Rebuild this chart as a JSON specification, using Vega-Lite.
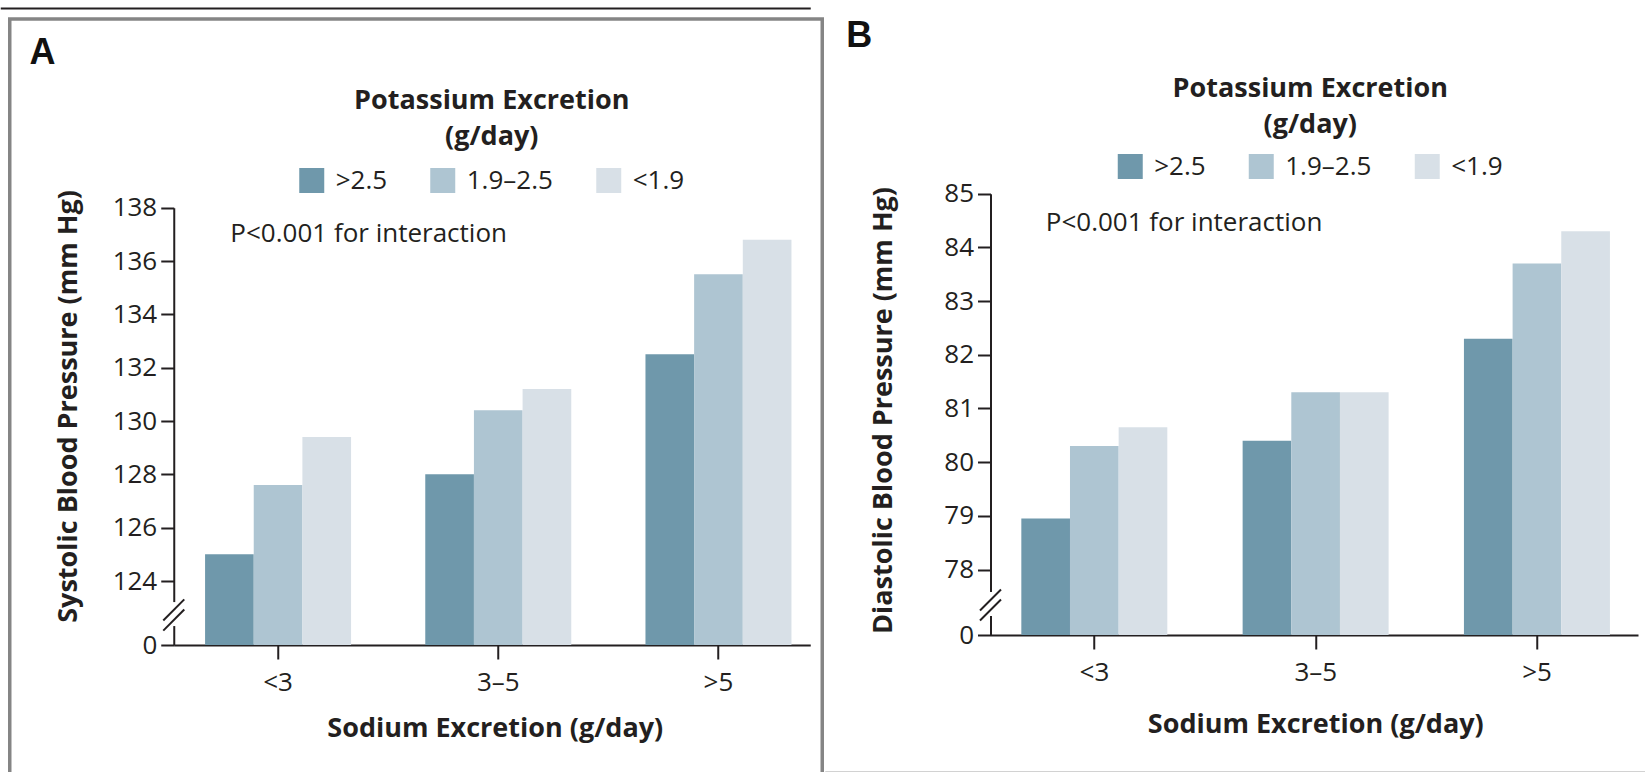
{
  "$schema": "https://vega.github.io/schema/vega-lite/v6.json",
  "background": "white",
  "padding": {"left": 7.75, "top": 6, "right": 0, "bottom": 0},
  "spacing": 0,
  "data": {
    "values": [
      {"measure": "systolic", "sodium": "<3", "potassium": ">2.5", "bp": 125.0},
      {"measure": "systolic", "sodium": "<3", "potassium": "1.9–2.5", "bp": 127.6},
      {"measure": "systolic", "sodium": "<3", "potassium": "<1.9", "bp": 129.4},
      {"measure": "systolic", "sodium": "3–5", "potassium": ">2.5", "bp": 128.0},
      {"measure": "systolic", "sodium": "3–5", "potassium": "1.9–2.5", "bp": 130.4},
      {"measure": "systolic", "sodium": "3–5", "potassium": "<1.9", "bp": 131.2},
      {"measure": "systolic", "sodium": ">5", "potassium": ">2.5", "bp": 132.5},
      {"measure": "systolic", "sodium": ">5", "potassium": "1.9–2.5", "bp": 135.5},
      {"measure": "systolic", "sodium": ">5", "potassium": "<1.9", "bp": 136.8},
      {"measure": "diastolic", "sodium": "<3", "potassium": ">2.5", "bp": 78.95},
      {"measure": "diastolic", "sodium": "<3", "potassium": "1.9–2.5", "bp": 80.3},
      {"measure": "diastolic", "sodium": "<3", "potassium": "<1.9", "bp": 80.65},
      {"measure": "diastolic", "sodium": "3–5", "potassium": ">2.5", "bp": 80.4},
      {"measure": "diastolic", "sodium": "3–5", "potassium": "1.9–2.5", "bp": 81.3},
      {"measure": "diastolic", "sodium": "3–5", "potassium": "<1.9", "bp": 81.3},
      {"measure": "diastolic", "sodium": ">5", "potassium": ">2.5", "bp": 82.3},
      {"measure": "diastolic", "sodium": ">5", "potassium": "1.9–2.5", "bp": 83.7},
      {"measure": "diastolic", "sodium": ">5", "potassium": "<1.9", "bp": 84.3}
    ]
  },
  "hconcat": [
    {
      "width": 812.5,
      "height": 782.5,
      "view": {"stroke": "#858585", "strokeWidth": 3.5},
      "title": {"text": "A", "anchor": "start", "frame": "group", "orient": "top", "offset": 0, "baseline": "top", "dx": 19.7, "dy": 63.8},
      "transform": [{"filter": "datum.measure === 'systolic'"}],
      "layer": [
        {
          "layer": [
            {
              "mark": {"type": "bar"},
              "encoding": {
                "x": {
                  "field": "sodium", "type": "nominal", "sort": ["<3", "3–5", ">5"],
                  "scale": {"range": [164, 800.5], "paddingInner": 0.337, "paddingOuter": 0.1138, "align": 0.625},
                  "axis": {
                    "orient": "bottom", "offset": -156.5, "labelAngle": 0,
                    "domainWidth": 2, "tickSize": 14, "tickWidth": 2, "labelPadding": 10, "labelFontSize": 26,
                    "title": "Sodium Excretion (g/day)", "titleX": 485, "titleY": 91,
                    "titleAlign": "center", "titleBaseline": "alphabetic", "titleFontSize": 27, "titleFontWeight": "bold"
                  }
                },
                "xOffset": {"field": "potassium", "type": "nominal", "sort": [">2.5", "1.9–2.5", "<1.9"], "scale": {"paddingInner": 0, "paddingOuter": 0}},
                "y": {
                  "field": "bp", "type": "quantitative",
                  "scale": {"domain": [121.6, 138], "range": [626, 188.7], "zero": false, "nice": false},
                  "axis": {
                    "orient": "left", "offset": -164,
                    "values": [121.6, 124, 126, 128, 130, 132, 134, 136, 138],
                    "format": "d", "labelExpr": "datum.value < 123 ? '0' : datum.label",
                    "domainWidth": 2, "tickSize": 13, "tickWidth": 2, "labelPadding": 4, "labelFontSize": 26,
                    "title": "Systolic Blood Pressure (mm Hg)", "titleX": -105, "titleY": 387, "titleAngle": -90,
                    "titleAlign": "center", "titleBaseline": "middle", "titleFontSize": 27, "titleFontWeight": "bold"
                  }
                },
                "y2": {"datum": 121.6},
                "color": {
                  "field": "potassium", "type": "nominal",
                  "scale": {"domain": [">2.5", "1.9–2.5", "<1.9"], "range": ["#6f98ab", "#aec5d2", "#d8e0e7"]},
                  "legend": {"orient": "none", "legendX": 289, "legendY": 68.5, "titlePadding": 17, "title": ["Potassium Excretion", "(g/day)"]}
                }
              }
            },
            {
              "data": {"values": [{"note": "P<0.001 for interaction"}]},
              "mark": {"type": "text", "align": "left", "baseline": "alphabetic", "fontSize": 26, "color": "#231f20"},
              "encoding": {
                "x": {"datum": "<3", "type": "nominal", "bandPosition": 0.173},
                "y": {"datum": 136.72, "type": "quantitative"},
                "text": {"field": "note"}
              }
            },
            {
              "data": {"values": [{"part": "axis break"}]},
              "mark": {"type": "rule", "color": "white", "strokeWidth": 6},
              "encoding": {
                "x": {"datum": "<3", "type": "nominal", "bandPosition": -0.2144},
                "y": {"datum": 122.31, "type": "quantitative"},
                "y2": {"datum": 123.21}
              }
            },
            {
              "data": {"values": [{"part": "axis break"}]},
              "mark": {"type": "rule", "color": "#231f20", "strokeWidth": 2},
              "encoding": {
                "x": {"datum": "<3", "type": "nominal", "bandPosition": -0.2863},
                "x2": {"datum": "<3", "bandPosition": -0.1425},
                "y": {"datum": 122.52, "type": "quantitative"},
                "y2": {"datum": 123.31}
              }
            },
            {
              "data": {"values": [{"part": "axis break"}]},
              "mark": {"type": "rule", "color": "#231f20", "strokeWidth": 2},
              "encoding": {
                "x": {"datum": "<3", "type": "nominal", "bandPosition": -0.2863},
                "x2": {"datum": "<3", "bandPosition": -0.1425},
                "y": {"datum": 122.14, "type": "quantitative"},
                "y2": {"datum": 122.93}
              }
            }
          ]
        },
        {
          "mark": {"type": "rule", "opacity": 0},
          "encoding": {
            "x": {
              "field": "sodium", "type": "nominal",
              "scale": {"range": [-9.5, 800.5]},
              "axis": {"orient": "top", "offset": 11, "domain": true, "domainColor": "#231f20", "domainWidth": 2, "ticks": false, "labels": false, "title": null}
            }
          }
        }
      ],
      "resolve": {"scale": {"x": "independent"}}
    },
    {
      "width": 830,
      "height": 753,
      "title": {"text": "B", "anchor": "start", "frame": "group", "orient": "top", "offset": 0, "baseline": "top", "dx": 21.5, "dy": 35.7},
      "transform": [{"filter": "datum.measure === 'diastolic'"}],
      "layer": [
        {
          "layer": [
            {
              "mark": {"type": "bar"},
              "encoding": {
                "x": {
                  "field": "sodium", "type": "nominal", "sort": ["<3", "3–5", ">5"],
                  "scale": {"range": [165.75, 813.25], "paddingInner": 0.339, "paddingOuter": 0.1324, "align": 0.526},
                  "axis": {
                    "orient": "bottom", "offset": -137, "labelAngle": 0,
                    "domainWidth": 2, "tickSize": 14, "tickWidth": 2, "labelPadding": 10, "labelFontSize": 26,
                    "title": "Sodium Excretion (g/day)", "titleX": 490.5, "titleY": 97,
                    "titleAlign": "center", "titleBaseline": "alphabetic", "titleFontSize": 27, "titleFontWeight": "bold"
                  }
                },
                "xOffset": {"field": "potassium", "type": "nominal", "sort": [">2.5", "1.9–2.5", "<1.9"], "scale": {"paddingInner": 0, "paddingOuter": 0}},
                "y": {
                  "field": "bp", "type": "quantitative",
                  "scale": {"domain": [76.78, 85], "range": [616, 174.7], "zero": false, "nice": false},
                  "axis": {
                    "orient": "left", "offset": -165.75,
                    "values": [76.78, 78, 79, 80, 81, 82, 83, 84, 85],
                    "format": "d", "labelExpr": "datum.value < 77.5 ? '0' : datum.label",
                    "domainWidth": 2, "tickSize": 13, "tickWidth": 2, "labelPadding": 4, "labelFontSize": 26,
                    "title": "Diastolic Blood Pressure (mm Hg)", "titleX": -107, "titleY": 391, "titleAngle": -90,
                    "titleAlign": "center", "titleBaseline": "middle", "titleFontSize": 27, "titleFontWeight": "bold"
                  }
                },
                "y2": {"datum": 76.78},
                "color": {
                  "field": "potassium", "type": "nominal",
                  "scale": {"domain": [">2.5", "1.9–2.5", "<1.9"], "range": ["#6f98ab", "#aec5d2", "#d8e0e7"]},
                  "legend": {"orient": "none", "legendX": 292.5, "legendY": 56.5, "titlePadding": 15, "title": ["Potassium Excretion", "(g/day)"]}
                }
              }
            },
            {
              "data": {"values": [{"note": "P<0.001 for interaction"}]},
              "mark": {"type": "text", "align": "left", "baseline": "alphabetic", "fontSize": 26, "color": "#231f20"},
              "encoding": {
                "x": {"datum": "<3", "type": "nominal", "bandPosition": 0.167},
                "y": {"datum": 84.3, "type": "quantitative"},
                "text": {"field": "note"}
              }
            },
            {
              "data": {"values": [{"part": "axis break"}]},
              "mark": {"type": "rule", "color": "white", "strokeWidth": 6},
              "encoding": {
                "x": {"datum": "<3", "type": "nominal", "bandPosition": -0.2107},
                "y": {"datum": 77.134, "type": "quantitative"},
                "y2": {"datum": 77.581}
              }
            },
            {
              "data": {"values": [{"part": "axis break"}]},
              "mark": {"type": "rule", "color": "#231f20", "strokeWidth": 2},
              "encoding": {
                "x": {"datum": "<3", "type": "nominal", "bandPosition": -0.2825},
                "x2": {"datum": "<3", "bandPosition": -0.139},
                "y": {"datum": 77.237, "type": "quantitative"},
                "y2": {"datum": 77.628}
              }
            },
            {
              "data": {"values": [{"part": "axis break"}]},
              "mark": {"type": "rule", "color": "#231f20", "strokeWidth": 2},
              "encoding": {
                "x": {"datum": "<3", "type": "nominal", "bandPosition": -0.2825},
                "x2": {"datum": "<3", "bandPosition": -0.139},
                "y": {"datum": 77.05, "type": "quantitative"},
                "y2": {"datum": 77.442}
              }
            }
          ]
        },
        {
          "mark": {"type": "rule", "opacity": 0},
          "encoding": {
            "x": {
              "field": "sodium", "type": "nominal",
              "scale": {"range": [0, 830]},
              "axis": {"orient": "bottom", "offset": 0, "domain": true, "domainColor": "#a6a6a6", "domainWidth": 2, "ticks": false, "labels": false, "title": null}
            }
          }
        }
      ],
      "resolve": {"scale": {"x": "independent"}}
    }
  ],
  "resolve": {"scale": {"color": "independent"}},
  "config": {
    "view": {"stroke": null},
    "font": "Open Sans",
    "axis": {
      "labelFont": "Open Sans", "titleFont": "Open Sans",
      "labelColor": "#231f20", "titleColor": "#231f20",
      "domainColor": "#231f20", "tickColor": "#231f20", "grid": false
    },
    "legend": {
      "direction": "horizontal", "padding": 0,
      "symbolType": "square", "symbolSize": 625, "symbolStrokeWidth": 0, "symbolOpacity": 1,
      "labelFont": "Open Sans", "labelFontSize": 26, "labelColor": "#231f20", "labelOffset": 11,
      "columnPadding": 42,
      "titleFont": "Open Sans", "titleFontSize": 27, "titleFontWeight": "bold", "titleColor": "#231f20",
      "titleAnchor": "middle", "titleAlign": "center", "titleLineHeight": 36, "titleLimit": 600
    },
    "title": {"font": "Liberation Sans", "fontSize": 36, "fontWeight": "bold", "color": "#111111"}
  }
}
